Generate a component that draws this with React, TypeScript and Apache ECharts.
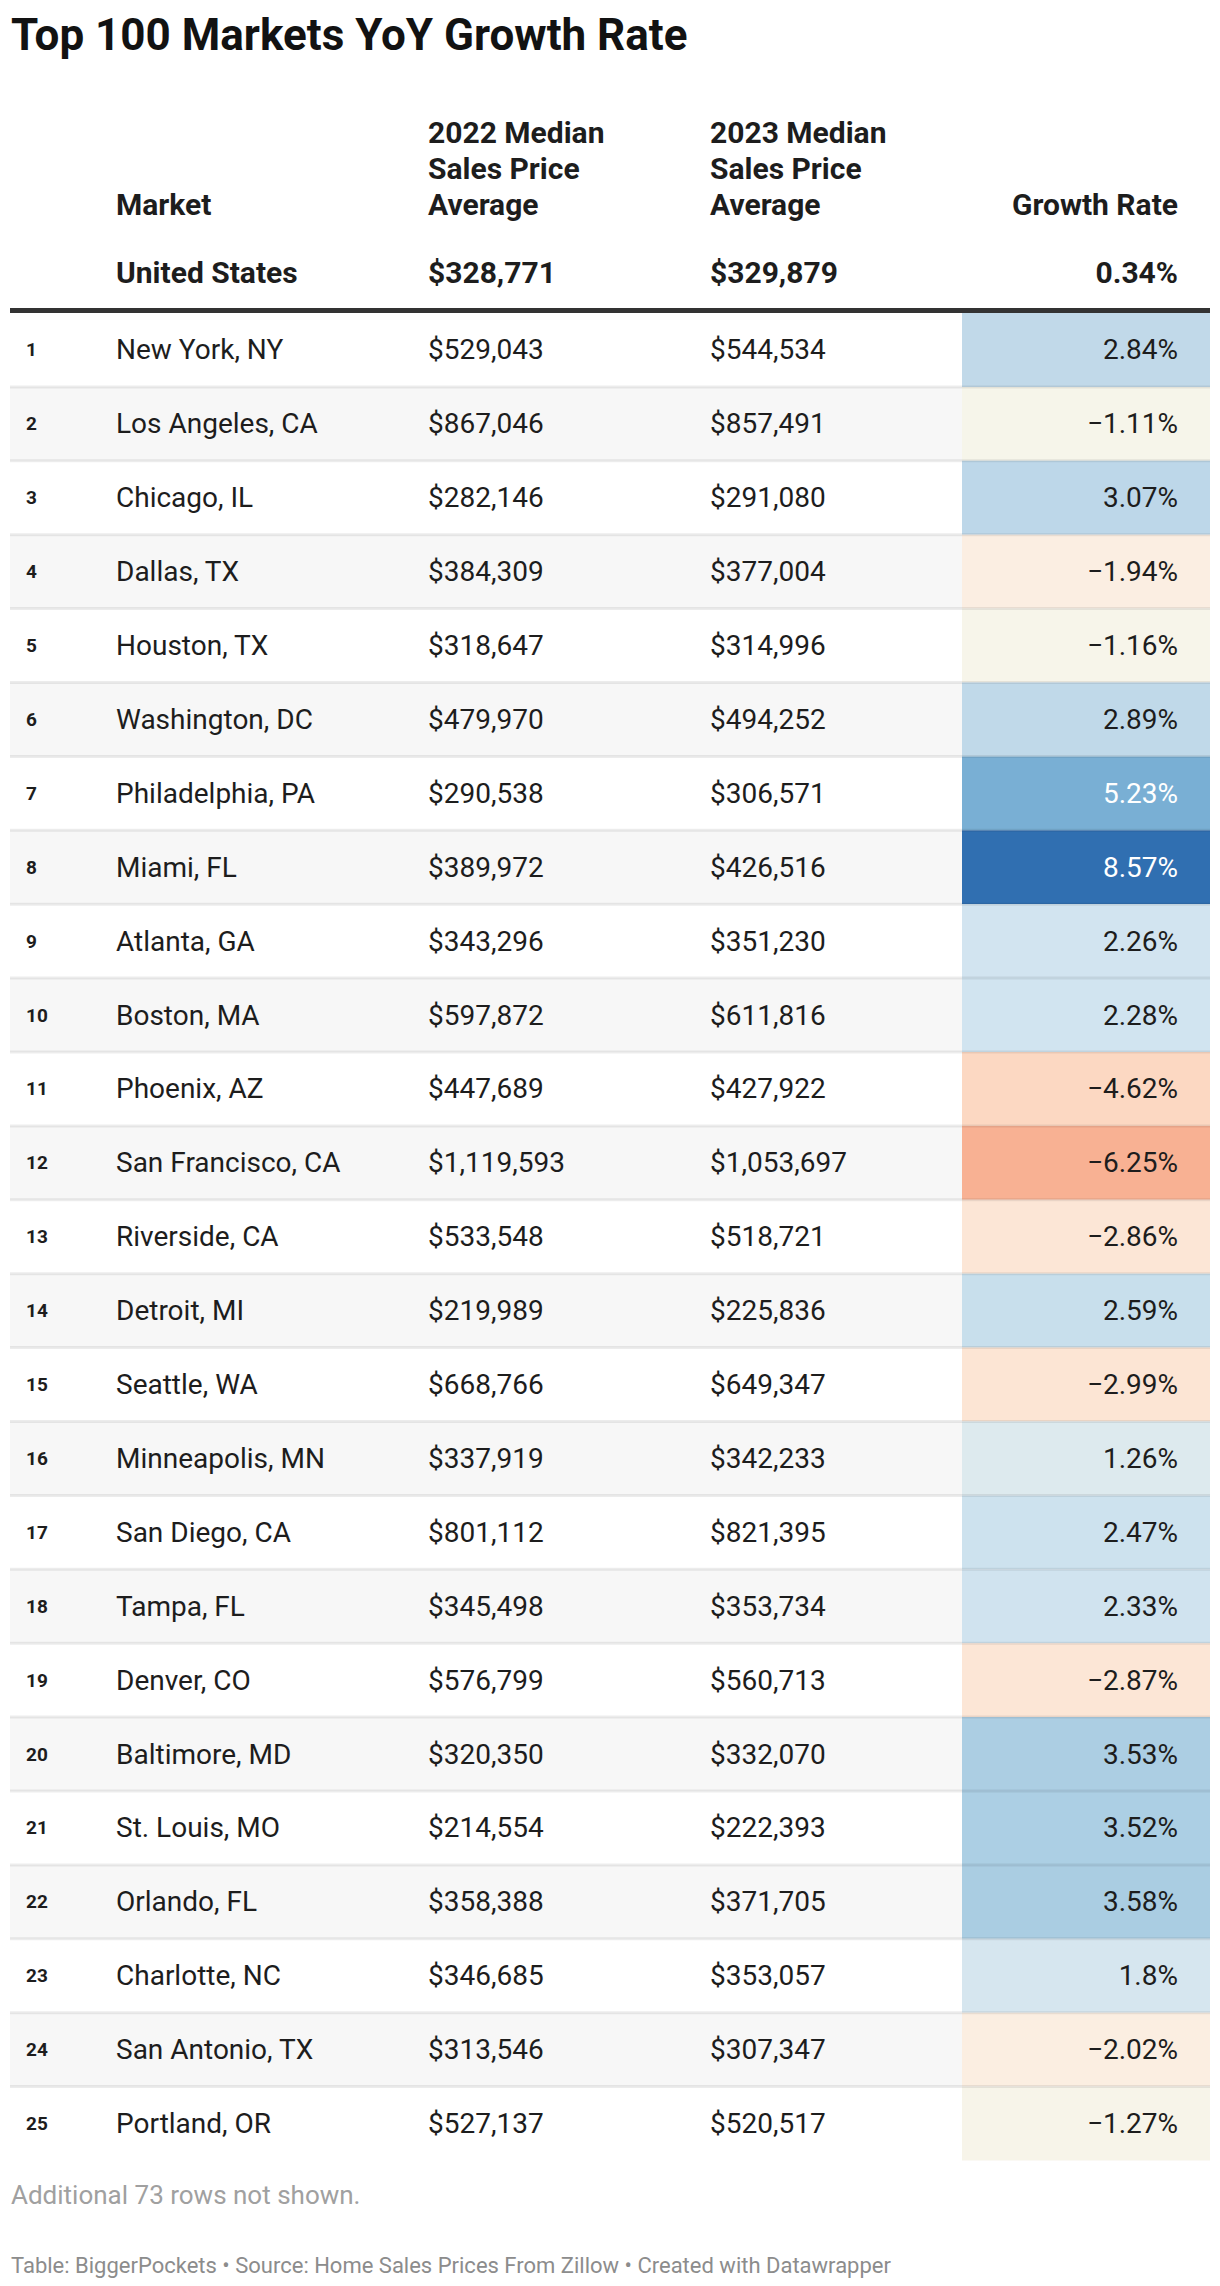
import React, { useEffect, useRef } from "react";
import * as echarts from "echarts";

const TITLE = "Top 100 Markets YoY Growth Rate";
const HEAD_MARKET = "Market";
const HEAD_2022 = ["2022 Median", "Sales Price", "Average"];
const HEAD_2023 = ["2023 Median", "Sales Price", "Average"];
const HEAD_GROWTH = "Growth Rate";

const US_NAME = "United States";
const US_2022 = 328771;
const US_2023 = 329879;
const US_GROWTH = 0.34;

const RANKS = ["1","2","3","4","5","6","7","8","9","10","11","12","13","14","15","16","17","18","19","20","21","22","23","24","25"];
const MARKETS = [
  "New York, NY", "Los Angeles, CA", "Chicago, IL", "Dallas, TX", "Houston, TX",
  "Washington, DC", "Philadelphia, PA", "Miami, FL", "Atlanta, GA", "Boston, MA",
  "Phoenix, AZ", "San Francisco, CA", "Riverside, CA", "Detroit, MI", "Seattle, WA",
  "Minneapolis, MN", "San Diego, CA", "Tampa, FL", "Denver, CO", "Baltimore, MD",
  "St. Louis, MO", "Orlando, FL", "Charlotte, NC", "San Antonio, TX", "Portland, OR",
];
const PRICE_2022 = [
  529043, 867046, 282146, 384309, 318647,
  479970, 290538, 389972, 343296, 597872,
  447689, 1119593, 533548, 219989, 668766,
  337919, 801112, 345498, 576799, 320350,
  214554, 358388, 346685, 313546, 527137,
];
const PRICE_2023 = [
  544534, 857491, 291080, 377004, 314996,
  494252, 306571, 426516, 351230, 611816,
  427922, 1053697, 518721, 225836, 649347,
  342233, 821395, 353734, 560713, 332070,
  222393, 371705, 353057, 307347, 520517,
];
const GROWTH = [
  2.84, -1.11, 3.07, -1.94, -1.16,
  2.89, 5.23, 8.57, 2.26, 2.28,
  -4.62, -6.25, -2.86, 2.59, -2.99,
  1.26, 2.47, 2.33, -2.87, 3.53,
  3.52, 3.58, 1.8, -2.02, -1.27,
];
const NOTE = "Additional 73 rows not shown.";
const FOOTER = "Table: BiggerPockets • Source: Home Sales Prices From Zillow • Created with Datawrapper";

// colour scale anchors (value -> colour)
const SCALE_STOPS: [number, string][] = [
  [-6.25, "#f8b193"], [-4.62, "#fcd8c2"], [-2.9, "#fce6d5"], [-2.0, "#fbeee1"],
  [-1.15, "#f7f5ea"], [1.26, "#ddeaee"], [1.8, "#d6e6ef"], [2.27, "#d2e4f0"],
  [2.47, "#cde2ee"], [2.59, "#c8dfec"], [2.86, "#c1d9e9"], [3.07, "#bdd7e9"],
  [3.54, "#abcee3"], [5.23, "#79afd4"], [8.57, "#306fb1"],
];
const SCALE_MIN = -7;
const SCALE_MAX = 9;
const SCALE_STEP = 0.05;

function hexToRgb(h: string) {
  const n = parseInt(h.slice(1), 16);
  return [(n >> 16) & 255, (n >> 8) & 255, n & 255];
}
function sampleScale(v: number) {
  const s = SCALE_STOPS;
  if (v <= s[0][0]) return s[0][1];
  if (v >= s[s.length - 1][0]) return s[s.length - 1][1];
  for (let i = 0; i < s.length - 1; i++) {
    if (v >= s[i][0] && v <= s[i + 1][0]) {
      const t = (v - s[i][0]) / (s[i + 1][0] - s[i][0]);
      const a = hexToRgb(s[i][1]);
      const b = hexToRgb(s[i + 1][1]);
      const c = a.map((x, k) => Math.round(x + (b[k] - x) * t));
      return `rgb(${c[0]},${c[1]},${c[2]})`;
    }
  }
  return s[0][1];
}
const SCALE_COLORS: string[] = [];
for (let k = 0; k <= Math.round((SCALE_MAX - SCALE_MIN) / SCALE_STEP); k++) {
  SCALE_COLORS.push(sampleScale(SCALE_MIN + k * SCALE_STEP));
}

const FONT = "Roboto";
const TXT = "#1d1d1d";
const money = (v: number) => "$" + v.toLocaleString("en-US");
const pct = (v: number) => (v < 0 ? "\u2212" : "") + String(Math.abs(v)) + "%";

// layout
const X_RANK = 26;
const X_MARKET = 116;
const X_2022 = 428;
const X_2023 = 710;
const X_CELL = 962;
const X_RIGHT = 1210;
const X_LEFT = 10;
const X_GROWTH_TXT = 1178;
const TABLE_TOP = 313;
const ROW_H = 73.9;
const BODY_SIZE = 28;
const HEAD_SIZE = 30;

function txt(text: string, x: number, y: number, size: number, weight: any, fill: string, align = "left") {
  return {
    type: "text",
    x,
    y,
    silent: true,
    style: {
      text,
      fill,
      fontSize: size,
      fontWeight: weight,
      fontFamily: FONT,
      align,
      textAlign: align,
      verticalAlign: "middle",
      textVerticalAlign: "middle",
    },
  };
}

export default function App() {
  const ref = useRef<HTMLDivElement>(null);
  useEffect(() => {
    document.body.style.margin = "0";
    const chart = echarts.init(ref.current!, null, { renderer: "svg" });
    const data = MARKETS.map((_, i) => [0, i, GROWTH[i]]);

    const graphic: any[] = [];
    graphic.push(txt(TITLE, 11, 35, 44, "bold", "#121212"));
    const hb = [132, 168, 204];
    HEAD_2022.forEach((t, k) => graphic.push(txt(t, X_2022, hb[k], HEAD_SIZE, "bold", TXT)));
    HEAD_2023.forEach((t, k) => graphic.push(txt(t, X_2023, hb[k], HEAD_SIZE, "bold", TXT)));
    graphic.push(txt(HEAD_MARKET, X_MARKET, hb[2], HEAD_SIZE, "bold", TXT));
    graphic.push(txt(HEAD_GROWTH, X_GROWTH_TXT, hb[2], HEAD_SIZE, "bold", TXT, "right"));
    const usY = 272;
    graphic.push(txt(US_NAME, X_MARKET, usY, HEAD_SIZE, "bold", TXT));
    graphic.push(txt(money(US_2022), X_2022, usY, HEAD_SIZE, "bold", TXT));
    graphic.push(txt(money(US_2023), X_2023, usY, HEAD_SIZE, "bold", TXT));
    graphic.push(txt(pct(US_GROWTH), X_GROWTH_TXT, usY, HEAD_SIZE, "bold", TXT, "right"));
    graphic.push({
      type: "rect",
      silent: true,
      shape: { x: X_LEFT, y: 308, width: X_RIGHT - X_LEFT, height: 5 },
      style: { fill: "#333333" },
    });
    graphic.push(txt(NOTE, 11, 2195, 26, "normal", "#a0a0a0"));
    graphic.push(txt(FOOTER, 11, 2265, 22, "normal", "#8c8c8c"));

    chart.setOption({
      animation: false,
      grid: { left: 0, right: 0, top: TABLE_TOP, height: ROW_H * MARKETS.length, containLabel: false },
      xAxis: { type: "value", min: 0, max: 1220, show: false },
      yAxis: { type: "category", data: RANKS, inverse: true, show: false },
      visualMap: {
        type: "continuous",
        show: false,
        min: SCALE_MIN,
        max: SCALE_MAX,
        dimension: 2,
        seriesIndex: 0,
        inRange: { color: SCALE_COLORS },
      },
      graphic,
      series: [
        {
          type: "custom",
          encode: { x: 0, y: 1 },
          data,
          renderItem: (params: any, api: any) => {
            const i = api.value(1);
            const g = api.value(2);
            const cy = api.coord([0, i])[1];
            const h = api.size([0, 1])[1];
            const top = cy - h / 2;
            const px = (v: number) => api.coord([v, i])[0];
            const fillColor = api.visual("color");
            const rgba = echarts.color.parse(fillColor) || [200, 200, 200, 1];
            const lum = (0.299 * rgba[0] + 0.587 * rgba[1] + 0.114 * rgba[2]) / 255;
            const cellText = lum < 0.7 ? "#ffffff" : TXT;
            const children: any[] = [];
            if (i % 2 === 1) {
              children.push({
                type: "rect",
                shape: { x: px(X_LEFT), y: top, width: px(X_RIGHT) - px(X_LEFT), height: h },
                style: { fill: "#f7f7f7" },
              });
            }
            children.push({
              type: "rect",
              shape: { x: px(X_CELL), y: top, width: px(X_RIGHT) - px(X_CELL), height: h },
              style: { fill: fillColor },
            });
            if (i > 0) {
              children.push({
                type: "rect",
                shape: { x: px(X_LEFT), y: top - 1.5, width: px(X_RIGHT) - px(X_LEFT), height: 3 },
                style: { fill: "rgba(0,0,0,0.075)" },
              });
            }
            children.push(txt(RANKS[i], px(X_RANK), cy, 19, "bold", TXT));
            children.push(txt(MARKETS[i], px(X_MARKET), cy, BODY_SIZE, "normal", TXT));
            children.push(txt(money(PRICE_2022[i]), px(X_2022), cy, BODY_SIZE, "normal", TXT));
            children.push(txt(money(PRICE_2023[i]), px(X_2023), cy, BODY_SIZE, "normal", TXT));
            children.push(txt(pct(g), px(X_GROWTH_TXT), cy, BODY_SIZE, "normal", cellText, "right"));
            return { type: "group", children };
          },
        },
      ],
    });
    return () => chart.dispose();
  }, []);
  return <div ref={ref} style={{ width: 1220, height: 2286 }} />;
}
